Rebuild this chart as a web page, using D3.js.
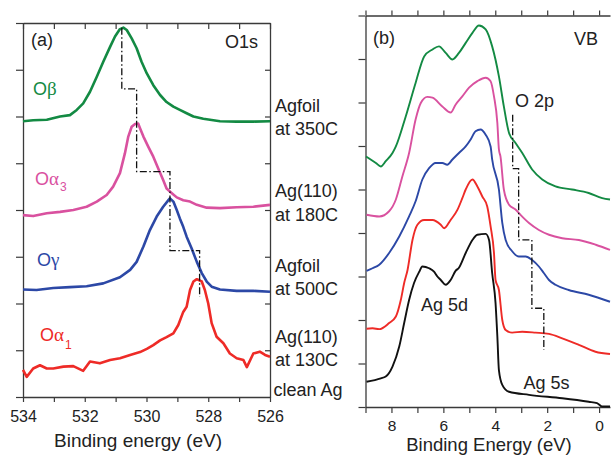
<!DOCTYPE html>
<html>
<head>
<meta charset="utf-8">
<script src="https://cdn.jsdelivr.net/npm/d3@7"></script>
<style>
  html, body { margin: 0; padding: 0; background: #fff; }
  svg { display: block; font-family: "Liberation Sans", Arial, sans-serif; }
</style>
</head>
<body>
<svg id="chart" width="613" height="457"></svg>
<script>
// ---------- DATA ----------
// Panel (a): O1s spectra, [binding energy (eV), offset intensity]
const o1sBeta = [[534.00,5.90],[533.67,5.92],[533.23,5.93],[532.80,6.00],[532.48,6.03],[532.26,6.14],[532.05,6.28],[531.83,6.53],[531.61,6.85],[531.40,7.17],[531.18,7.49],[531.02,7.71],[530.86,7.87],[530.75,7.90],[530.64,7.85],[530.48,7.67],[530.32,7.46],[530.16,7.17],[529.99,6.92],[529.78,6.67],[529.56,6.46],[529.35,6.31],[529.13,6.21],[528.92,6.14],[528.70,6.07],[528.48,6.00],[528.16,5.95],[527.62,5.90],[527.08,5.89],[526.54,5.89],[526.00,5.90]];
const o1sAlpha3 = [[534.00,3.89],[533.67,3.87],[533.23,3.93],[532.80,3.96],[532.37,4.00],[531.94,4.07],[531.61,4.18],[531.29,4.32],[531.08,4.50],[530.86,4.79],[530.70,5.21],[530.59,5.57],[530.48,5.78],[530.37,5.84],[530.27,5.85],[530.21,5.75],[530.10,5.57],[529.94,5.35],[529.78,5.14],[529.62,4.89],[529.46,4.64],[529.35,4.46],[529.18,4.36],[529.02,4.27],[528.81,4.21],[528.59,4.18],[528.37,4.11],[528.05,4.05],[527.62,4.04],[527.08,4.06],[526.54,4.07],[526.00,4.11]];
const o1sGamma = [[534.00,2.30],[533.56,2.29],[533.02,2.33],[532.48,2.35],[531.94,2.37],[531.40,2.43],[530.86,2.56],[530.53,2.72],[530.32,2.89],[530.10,3.22],[529.89,3.57],[529.67,3.86],[529.46,4.07],[529.29,4.21],[529.24,4.25],[529.13,4.18],[529.02,4.00],[528.92,3.82],[528.81,3.64],[528.70,3.43],[528.54,3.18],[528.37,2.89],[528.21,2.65],[528.05,2.47],[527.89,2.36],[527.62,2.30],[527.08,2.27],[526.54,2.27],[526.00,2.25]];
const o1sAlpha1 = [[534.00,0.58],[533.88,0.43],[533.67,0.61],[533.45,0.68],[533.23,0.61],[533.02,0.61],[532.69,0.65],[532.37,0.66],[532.05,0.56],[531.83,0.76],[531.51,0.72],[531.18,0.79],[530.86,0.83],[530.53,0.90],[530.21,0.96],[529.99,1.03],[529.78,1.11],[529.56,1.21],[529.35,1.28],[529.13,1.36],[528.97,1.54],[528.81,1.82],[528.70,1.93],[528.59,2.29],[528.48,2.47],[528.37,2.52],[528.21,2.47],[528.11,2.29],[528.00,2.00],[527.89,1.58],[527.73,1.29],[527.51,1.15],[527.30,0.93],[527.08,0.83],[526.86,0.79],[526.75,0.64],[526.54,0.93],[526.33,0.97],[526.16,0.90],[526.00,0.86]];
const o1sPeakSteps = [[530.80,7.90],[530.80,6.59],[530.32,6.59],[530.32,4.82],[529.24,4.82],[529.24,3.13],[528.28,3.13],[528.28,2.14]];
const o1sSeriesNames = ["O\u03B2", "O\u03B13", "O\u03B3", "O\u03B11"];
const sampleLabels = ["Agfoil", "at 350C", "Ag(110)", "at 180C", "Agfoil", "at 500C", "Ag(110)", "at 130C", "clean Ag"];
const o1sTickLabels = [534, 532, 530, 528, 526];

// Panel (b): valence band spectra
const vbAgfoil350 = [[8.98,5.76],[8.60,5.61],[8.41,5.53],[8.22,5.65],[7.96,5.84],[7.83,5.99],[7.45,6.68],[7.07,7.45],[6.74,8.06],[6.42,8.22],[6.17,8.29],[5.91,8.14],[5.65,7.99],[5.40,8.14],[5.14,8.37],[4.88,8.60],[4.63,8.77],[4.37,8.68],[4.12,8.29],[3.86,7.60],[3.67,6.91],[3.47,6.30],[3.22,6.07],[2.96,5.84],[2.58,5.46],[2.19,5.23],[1.68,5.07],[1.04,5.00],[0.40,4.92],[-0.12,4.80],[-0.42,4.77]];
const vbAg110At180 = [[8.96,4.42],[8.47,4.38],[8.09,4.50],[7.83,4.77],[7.58,5.30],[7.32,5.84],[7.07,6.61],[6.87,6.99],[6.62,7.13],[6.42,7.11],[6.04,6.91],[5.72,6.77],[5.53,6.95],[5.27,7.14],[5.01,7.34],[4.69,7.49],[4.37,7.57],[4.18,7.49],[4.05,7.14],[3.92,6.53],[3.86,5.92],[3.80,5.76],[3.67,5.00],[3.47,4.65],[3.22,4.54],[3.03,4.42],[2.70,4.23],[2.32,4.07],[1.93,3.96],[1.42,3.88],[0.78,3.84],[0.13,3.73],[-0.42,3.61]];
const vbAgfoil500 = [[8.96,3.13],[8.73,3.19],[8.47,3.27],[8.09,3.54],[7.70,3.92],[7.32,4.38],[7.07,4.73],[6.81,5.23],[6.55,5.49],[6.30,5.61],[6.04,5.61],[5.85,5.57],[5.65,5.69],[5.40,5.84],[5.14,5.99],[4.95,6.15],[4.76,6.34],[4.57,6.38],[4.37,6.26],[4.18,5.99],[4.12,5.69],[3.86,5.00],[3.73,4.23],[3.60,3.84],[3.35,3.58],[3.09,3.46],[2.83,3.46],[2.58,3.38],[2.32,3.23],[2.13,3.08],[1.93,2.92],[1.68,2.81],[1.17,2.69],[0.40,2.58],[-0.42,2.42]];
const vbAg110At130 = [[8.96,1.80],[8.73,1.81],[8.47,1.79],[8.09,1.93],[7.83,2.08],[7.64,2.46],[7.51,2.85],[7.38,3.15],[7.19,3.84],[7.00,4.19],[6.74,4.30],[6.42,4.30],[6.10,4.19],[5.97,4.11],[5.72,4.30],[5.46,4.53],[5.27,4.80],[5.14,5.00],[4.88,5.23],[4.69,5.07],[4.50,4.84],[4.31,4.61],[4.18,4.15],[4.05,3.54],[3.99,2.92],[3.86,2.69],[3.73,2.00],[3.60,1.77],[3.35,1.71],[2.96,1.73],[2.45,1.71],[1.93,1.68],[1.42,1.58],[0.78,1.43],[0.14,1.27],[-0.42,1.22]];
const vbCleanAg = [[8.96,0.58],[8.41,0.66],[8.22,0.70],[7.96,0.93],[7.70,1.39],[7.51,1.93],[7.32,2.46],[7.13,2.85],[6.93,3.11],[6.81,3.23],[6.55,3.19],[6.36,3.11],[6.23,3.00],[6.10,2.92],[5.91,2.81],[5.72,2.92],[5.53,3.13],[5.40,3.20],[5.14,3.54],[4.88,3.84],[4.69,3.96],[4.37,3.98],[4.24,3.84],[4.12,3.08],[3.99,2.39],[3.92,1.62],[3.86,0.85],[3.73,0.51],[3.47,0.35],[2.70,0.28],[1.42,0.20],[0.40,0.12],[0.08,0.09],[-0.12,0.01],[-0.42,0.01]];
const vbO2pSteps = [[3.33,6.72],[3.33,5.48],[3.10,5.48],[3.10,3.84],[2.59,3.84],[2.59,2.27],[2.13,2.27],[2.13,1.31]];
const vbTickLabels = [8, 6, 4, 2, 0];
const vbAnnotations = ["O 2p", "Ag 5d", "Ag 5s"];

// ---------- STYLE ----------
const C = { green: "#138a43", pink: "#d9519f", blue: "#2c48a6", red: "#ee2b27", black: "#111111", axis: "#3a3a3a", text: "#222222" };
const svg = d3.select("#chart");
const FONT = "'Liberation Sans', Arial, sans-serif";

// ---------- PANEL A ----------
const xa = d3.scaleLinear().domain([534, 526]).range([23, 270]);
const ya = d3.scaleLinear().domain([0, 8]).range([397, 23]);
const ga = svg.append("g");

function styleAxis(g, size) {
  g.selectAll("path.domain").attr("stroke", C.axis).attr("stroke-width", 1.3);
  g.selectAll(".tick line").attr("stroke", C.axis).attr("stroke-width", 1.2);
  g.selectAll(".tick text").attr("fill", C.text).attr("font-size", size || 16).attr("font-family", FONT);
}

ga.append("g").attr("transform", "translate(0,397)")
  .call(d3.axisBottom(xa).tickValues(d3.range(526, 535, 1)).tickSizeInner(5).tickSizeOuter(0).tickPadding(8.5)
    .tickFormat(d => o1sTickLabels.includes(d) ? String(d) : ""))
  .call(g => styleAxis(g, 16));
ga.append("g").attr("transform", "translate(0,23)")
  .call(d3.axisTop(xa).tickValues(d3.range(526, 535, 1)).tickSizeInner(-6).tickSizeOuter(0).tickFormat(""))
  .call(g => styleAxis(g));
ga.append("g").attr("transform", "translate(23,0)")
  .call(d3.axisLeft(ya).tickValues(d3.range(0, 9, 1)).tickSizeInner(7).tickSizeOuter(0).tickFormat(""))
  .call(g => styleAxis(g));
ga.append("g").attr("transform", "translate(270,0)")
  .call(d3.axisRight(ya).tickValues(d3.range(1, 8, 1)).tickSizeInner(-5).tickSizeOuter(0).tickFormat(""))
  .call(g => styleAxis(g));

const lineA = d3.line().x(d => xa(d[0])).y(d => ya(d[1]));
[[o1sBeta, C.green], [o1sAlpha3, C.pink], [o1sGamma, C.blue], [o1sAlpha1, C.red]].forEach(([data, col]) => {
  ga.append("path").datum(data).attr("d", lineA).attr("fill", "none")
    .attr("stroke", col).attr("stroke-width", 2.6).attr("stroke-linejoin", "round");
});
ga.append("path").datum(o1sPeakSteps).attr("d", lineA).attr("fill", "none")
  .attr("stroke", C.black).attr("stroke-width", 1.3).attr("stroke-dasharray", "7,2.5,1.5,2.5");

function txt(g, x, y, s, opts = {}) {
  return g.append("text").attr("x", x).attr("y", y).text(s)
    .attr("font-size", opts.size || 18).attr("fill", opts.fill || C.text)
    .attr("text-anchor", opts.anchor || "start").attr("font-family", FONT);
}
txt(ga, 31, 46, "(a)");
txt(ga, 258, 48, "O1s", { anchor: "end" });

function greekLabel(g, x, y, name, col, subDy) {
  const t = g.append("text").attr("x", x).attr("y", y).attr("fill", col).attr("font-size", 18).attr("font-family", FONT);
  t.append("tspan").text(name[0]);
  t.append("tspan").text(name[1]).attr("font-family", "'Liberation Serif', 'DejaVu Serif', serif").attr("font-size", 19);
  if (name.length > 2) t.append("tspan").text(name.slice(2)).attr("font-size", 12).attr("dy", subDy).attr("dx", 1);
}
greekLabel(ga, 33, 95, o1sSeriesNames[0], C.green, 0);
greekLabel(ga, 35, 185, o1sSeriesNames[1], C.pink, 6);
greekLabel(ga, 37, 266, o1sSeriesNames[2], C.blue, 0);
greekLabel(ga, 40, 341, o1sSeriesNames[3], C.red, 8);

const sampleBaselines = [111.5, 135, 196.5, 220.5, 271.5, 294.5, 342.5, 365.5, 396];
sampleLabels.forEach((s, i) => txt(svg, i === 8 ? 273.5 : 275, sampleBaselines[i], s));

txt(svg, 138, 447, "Binding energy (eV)", { anchor: "middle", size: 19 });

// ---------- PANEL B ----------
const xb = d3.scaleLinear().domain([9, -0.42]).range([365.5, 610]);
const yb = d3.scaleLinear().domain([0, 9]).range([407, 15.5]);
const gb = svg.append("g");

gb.append("g").attr("transform", "translate(0,407)")
  .call(d3.axisBottom(xb).tickValues(d3.range(0, 10, 1)).tickSizeInner(6).tickSizeOuter(0).tickPadding(7)
    .tickFormat(d => vbTickLabels.includes(d) ? String(d) : ""))
  .call(g => styleAxis(g, 15.5));
gb.append("g").attr("transform", "translate(0,15.5)")
  .call(d3.axisTop(xb).tickValues(d3.range(0, 10, 1)).tickSizeInner(5).tickSizeOuter(0).tickFormat(""))
  .call(g => styleAxis(g));
gb.append("g").attr("transform", "translate(365.5,0)")
  .call(d3.axisLeft(yb).tickValues(d3.range(0, 10, 1)).tickSizeInner(7).tickSizeOuter(0).tickFormat(""))
  .call(g => styleAxis(g));

const lineB = d3.line().x(d => xb(d[0])).y(d => yb(d[1])).curve(d3.curveMonotoneX);
[[vbAgfoil350, C.green], [vbAg110At180, C.pink], [vbAgfoil500, C.blue], [vbAg110At130, C.red], [vbCleanAg, C.black]].forEach(([data, col]) => {
  gb.append("path").datum(data).attr("d", lineB).attr("fill", "none")
    .attr("stroke", col).attr("stroke-width", 1.9).attr("stroke-linejoin", "round");
});
gb.append("path").datum(vbO2pSteps).attr("d", d3.line().x(d => xb(d[0])).y(d => yb(d[1]))).attr("fill", "none")
  .attr("stroke", C.black).attr("stroke-width", 1.3).attr("stroke-dasharray", "7,2.5,1.5,2.5");

txt(gb, 373, 44, "(b)");
txt(gb, 598, 45, "VB", { anchor: "end" });
txt(gb, 515, 106.5, vbAnnotations[0]);
txt(gb, 421, 311, vbAnnotations[1]);
txt(gb, 523.5, 389, vbAnnotations[2]);

txt(svg, 489, 450.5, "Binding Energy (eV)", { anchor: "middle", size: 18.5 });
</script>
</body>
</html>
